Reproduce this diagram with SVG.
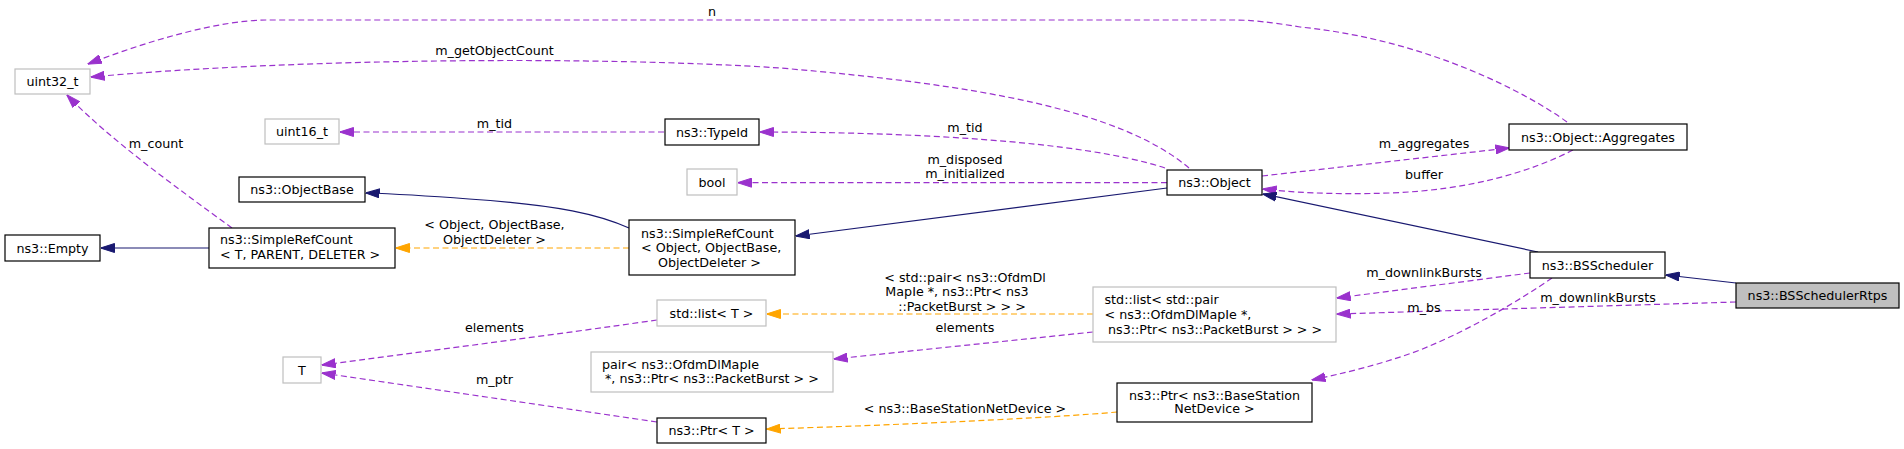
<svg xmlns="http://www.w3.org/2000/svg" width="1904" height="449" viewBox="0 0 1904 449">
<defs>
<style>
text{font-family:"DejaVu Sans","Liberation Sans",sans-serif;font-size:12.7px;fill:#000}
.m{text-anchor:middle}
.s{text-anchor:start}
.nb{fill:#fff;stroke:#000;stroke-width:1.2}
.ng{fill:#fff;stroke:#bfbfbf;stroke-width:1.2}
.nm{fill:#bfbfbf;stroke:#000;stroke-width:1.2}
.p{fill:none;stroke:#9a32cd;stroke-width:1.2;stroke-dasharray:6,3.5;marker-end:url(#ap)}
.o{fill:none;stroke:#ffa500;stroke-width:1.2;stroke-dasharray:6,3.5;marker-end:url(#ao)}
.b{fill:none;stroke:#191970;stroke-width:1.2;marker-end:url(#ab)}
</style>
<marker id="ap" viewBox="0 0 14 10" refX="13.5" refY="5" markerWidth="14" markerHeight="10" markerUnits="userSpaceOnUse" orient="auto"><path d="M0,0.5 L14,5 L0,9.5 z" fill="#9a32cd" stroke="#9a32cd" stroke-width="1"/></marker>
<marker id="ao" viewBox="0 0 14 10" refX="13.5" refY="5" markerWidth="14" markerHeight="10" markerUnits="userSpaceOnUse" orient="auto"><path d="M0,0.5 L14,5 L0,9.5 z" fill="#ffa500" stroke="#ffa500" stroke-width="1"/></marker>
<marker id="ab" viewBox="0 0 14 10" refX="13.5" refY="5" markerWidth="14" markerHeight="10" markerUnits="userSpaceOnUse" orient="auto"><path d="M0,0.5 L14,5 L0,9.5 z" fill="#191970" stroke="#191970" stroke-width="1"/></marker>
</defs>
<rect width="1904" height="449" fill="#fff"/>
<g id="connectors">
<path class="p" d="M1567,122 C1530,95 1430,40 1300,27 C1270,22 1250,20 1234,20 L268,20 C220,20 150,40 88,64"/>
<text class="m" x="712" y="16">n</text>
<path class="p" d="M1189,168 C1120,110 980,85 780,68 C600,56 300,58 91,77"/>
<text class="m" x="494.5" y="55">m_getObjectCount</text>
<path class="p" d="M664,132 L340,132"/>
<text class="m" x="494.5" y="128">m_tid</text>
<path class="p" d="M232,228 C180,190 110,140 67,95"/>
<text class="m" x="156" y="148">m_count</text>
<path class="p" d="M1165,168 C1080,140 900,132 760,132"/>
<text class="m" x="965" y="132">m_tid</text>
<path class="p" d="M1167,182.7 L738,182.7"/>
<text class="m" x="965" y="163.5">m_disposed</text>
<text class="m" x="965" y="178">m_initialized</text>
<path class="p" d="M1262,176 L1509,148"/>
<text class="m" x="1424" y="147.5">m_aggregates</text>
<path class="p" d="M1573,150 C1530,172 1470,190 1390,193 C1330,195 1290,192 1263,189"/>
<text class="m" x="1424" y="179">buffer</text>
<path class="b" d="M629,228 C600,215 560,205 469,199 C430,196 400,194 366,193"/>
<path class="b" d="M1167,188 L796,236"/>
<path class="b" d="M1538,252 L1263,194"/>
<path class="b" d="M209,248 L101,248"/>
<path class="o" d="M629,248 L396,248"/>
<text class="m" x="494.5" y="229">&lt; Object, ObjectBase,</text>
<text class="m" x="494.5" y="243.5">ObjectDeleter &gt;</text>
<path class="p" d="M657,320 C560,334 420,352 322,365"/>
<text class="m" x="494.5" y="332">elements</text>
<path class="p" d="M657,422 L322,373"/>
<text class="m" x="494.5" y="384">m_ptr</text>
<path class="o" d="M1093,314 L767,314"/>
<text class="m" x="965" y="281.5">&lt; std::pair&lt; ns3::OfdmDl</text>
<text class="m" x="957" y="296">MapIe *, ns3::Ptr&lt; ns3</text>
<text class="m" x="962" y="310.5">::PacketBurst &gt; &gt; &gt;</text>
<path class="p" d="M1093,332 L834,359"/>
<text class="m" x="965" y="331.5">elements</text>
<path class="o" d="M1117,412 C1050,418 900,425 767,429"/>
<text class="m" x="965" y="412.5">&lt; ns3::BaseStationNetDevice &gt;</text>
<path class="p" d="M1530,273 L1337,298"/>
<text class="m" x="1424" y="276.5">m_downlinkBursts</text>
<path class="p" d="M1736,302 L1337,314"/>
<text class="m" x="1598" y="301.5">m_downlinkBursts</text>
<path class="p" d="M1552,278 C1520,300 1470,330 1420,350 C1380,365 1340,374 1312,380"/>
<text class="m" x="1424" y="311.5">m_bs</text>
<path class="b" d="M1736,283 L1666,275"/>
</g>
<g id="uint32_t"><rect class="ng" x="15" y="69" width="75" height="25"/><text class="m" x="52.5" y="86">uint32_t</text></g>
<g id="uint16_t"><rect class="ng" x="265" y="119" width="74" height="25"/><text class="m" x="302" y="136">uint16_t</text></g>
<g id="ObjectBase"><rect class="nb" x="239" y="177" width="126" height="25"/><text class="m" x="302" y="194">ns3::ObjectBase</text></g>
<g id="Empty"><rect class="nb" x="5" y="235" width="95" height="26"/><text class="m" x="52.5" y="252.5">ns3::Empty</text></g>
<g id="SimpleRefCountT"><rect class="nb" x="209" y="228" width="186" height="40"/><text class="s" x="220" y="244">ns3::SimpleRefCount</text><text class="s" x="220" y="259">&lt; T, PARENT, DELETER &gt;</text></g>
<g id="TypeId"><rect class="nb" x="665" y="119" width="94" height="26"/><text class="m" x="712" y="137">ns3::TypeId</text></g>
<g id="bool"><rect class="ng" x="687" y="169" width="50" height="26"/><text class="m" x="712" y="187">bool</text></g>
<g id="Object"><rect class="nb" x="1167" y="170" width="95" height="25"/><text class="m" x="1214.5" y="187">ns3::Object</text></g>
<g id="Aggregates"><rect class="nb" x="1509" y="124" width="178" height="26"/><text class="m" x="1598" y="141.5">ns3::Object::Aggregates</text></g>
<g id="SimpleRefCountObject"><rect class="nb" x="629" y="220" width="166" height="55"/><text class="s" x="641" y="237.5">ns3::SimpleRefCount</text><text class="s" x="641" y="252">&lt; Object, ObjectBase,</text><text class="s" x="658" y="266.5">ObjectDeleter &gt;</text></g>
<g id="listT"><rect class="ng" x="657" y="300" width="109" height="26"/><text class="m" x="711.5" y="317.5">std::list&lt; T &gt;</text></g>
<g id="T"><rect class="ng" x="283" y="357" width="38" height="26"/><text class="m" x="302" y="374.5">T</text></g>
<g id="pair"><rect class="ng" x="591" y="352" width="242" height="40"/><text class="s" x="602" y="368.5">pair&lt; ns3::OfdmDlMapIe</text><text class="s" x="605" y="383"> *, ns3::Ptr&lt; ns3::PacketBurst &gt; &gt;</text></g>
<g id="listPair"><rect class="ng" x="1093" y="287" width="243" height="55"/><text class="s" x="1104.5" y="303.5">std::list&lt; std::pair</text><text class="s" x="1104.5" y="318.5">&lt; ns3::OfdmDlMapIe *,</text><text class="s" x="1108" y="333.5">ns3::Ptr&lt; ns3::PacketBurst &gt; &gt; &gt;</text></g>
<g id="PtrBaseStation"><rect class="nb" x="1117" y="383" width="195" height="39"/><text class="m" x="1214.5" y="399.5">ns3::Ptr&lt; ns3::BaseStation</text><text class="m" x="1214.5" y="413">NetDevice &gt;</text></g>
<g id="PtrT"><rect class="nb" x="657" y="418" width="109" height="25"/><text class="m" x="711.5" y="435">ns3::Ptr&lt; T &gt;</text></g>
<g id="BSScheduler"><rect class="nb" x="1530" y="252" width="135" height="26"/><text class="m" x="1597.5" y="269.5">ns3::BSScheduler</text></g>
<g id="BSSchedulerRtps"><rect class="nm" x="1736" y="283" width="163" height="25"/><text class="m" x="1817.5" y="300">ns3::BSSchedulerRtps</text></g>
</svg>
